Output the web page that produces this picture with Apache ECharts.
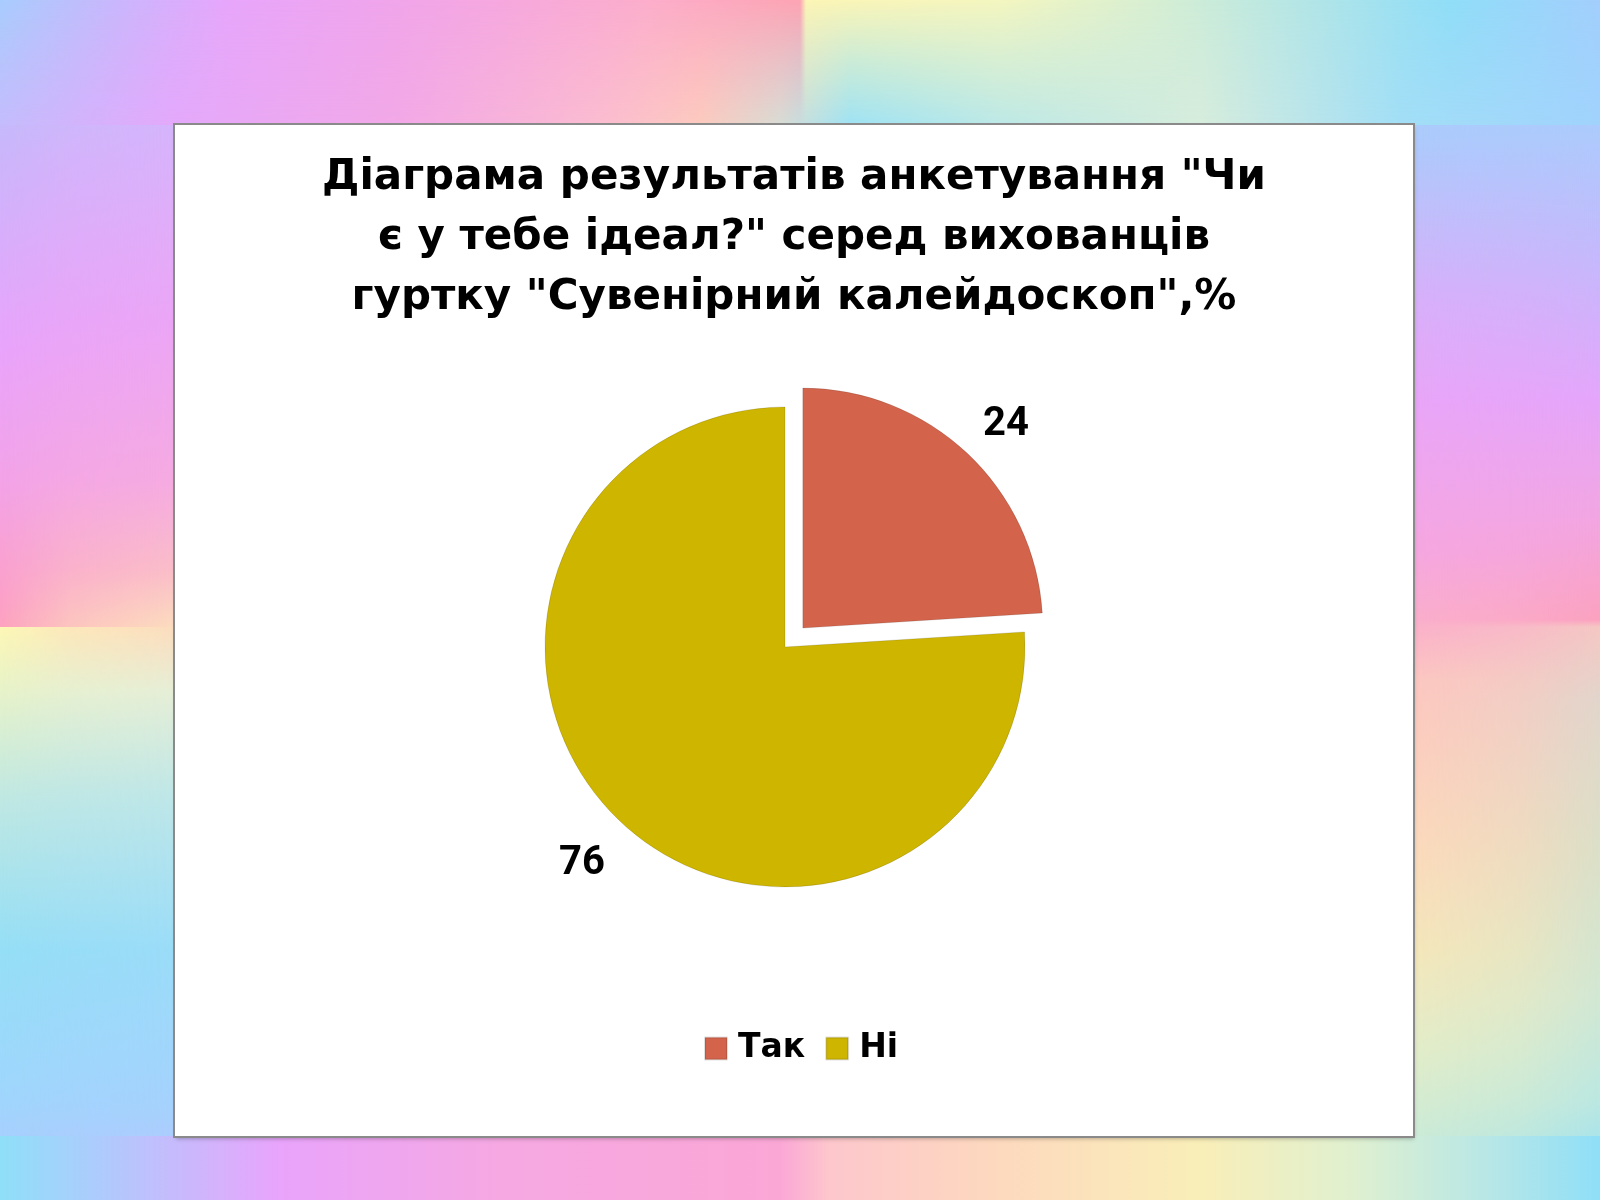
<!DOCTYPE html>
<html>
<head>
<meta charset="utf-8">
<title>Діаграма</title>
<script src="https://cdn.jsdelivr.net/npm/echarts@6.0.0/dist/echarts.min.js"></script>
<style>
    html, body { margin: 0; padding: 0; width: 1600px; height: 1200px; overflow: hidden; }
    .bg { position: absolute; }
    #bg_left { left: 0; top: 0; width: 175px; height: 1200px;
        background: linear-gradient(to bottom, #a9cdfd 0px, #cbb6fb 150px, #e9a4fb 350px, #f3a3e8 480px, #fca0c8 600px, #fda2c0 627px,
            #fdf8b6 627px, #e4f2cc 700px, #bfe8e3 800px, #95dff6 950px, #a0d6fd 1100px, #b2c6fd 1200px); }
    #bg_left_soft { left: 0; top: 0; width: 175px; height: 1200px;
        background: linear-gradient(to bottom, #c6befc 0px, #d8b2fb 150px, #eba5f6 320px, #f5aae1 480px, #fabdc8 570px, #fcdcbe 627px,
            #e6eed6 690px, #bde6e8 800px, #9adcf8 950px, #a4d2fd 1100px, #b8c4fd 1200px);
        -webkit-mask-image: linear-gradient(to right, transparent 0px, rgba(0,0,0,0.6) 70px, #000 175px);
        mask-image: linear-gradient(to right, transparent 0px, rgba(0,0,0,0.6) 70px, #000 175px); }
    #bg_right { left: 1413px; top: 0; width: 187px; height: 1200px;
        background: linear-gradient(to bottom, #8fdff8 0px, #a8cffd 100px, #c4bafc 250px, #e5a6fb 400px, #f3a6e2 520px, #fca2c0 620px,
            #f5c8c4 627px, #e2d6cc 700px, #dce0c8 850px, #d2e8d4 1000px, #bce8e2 1100px, #8fdff8 1200px); }
    #bg_right_soft { left: 1413px; top: 0; width: 187px; height: 1200px;
        background: linear-gradient(to bottom, #96dcf8 0px, #afc8fc 150px, #d7affa 300px, #e8a5f8 400px, #f5a6e0 550px, #faaecb 620px,
            #fcc6c0 680px, #fbd9bb 850px, #f4e6ba 950px, #e2ecc8 1050px, #c8ead8 1150px, #a8e2ec 1200px);
        -webkit-mask-image: linear-gradient(to left, transparent 0px, rgba(0,0,0,0.6) 80px, #000 187px);
        mask-image: linear-gradient(to left, transparent 0px, rgba(0,0,0,0.6) 80px, #000 187px); }
    #bg_top { left: 0; top: 0; width: 1600px; height: 125px;
        background: linear-gradient(to right, #a9cdfd 0px, #c8b8fc 110px, #e8a6fb 230px, #f0a5ec 380px, #f6a8df 500px, #fcaecb 650px, #fda4b4 800px,
            #fcf5b6 806px, #f4f6c0 1000px, #d8efd2 1150px, #b5e6e6 1300px, #90def8 1450px, #a3cffd 1600px); }
    #bg_top_soft { left: 0; top: 0; width: 1600px; height: 125px;
        background: linear-gradient(to right, #c4bcfc 0px, #e4a8fb 175px, #f2a8e6 400px, #fbbcd0 600px, #fccabe 700px, #d8dcd4 780px,
            #9ee2f4 850px, #bce8e6 1000px, #d6ecdc 1200px, #a2def6 1400px, #a0d2fd 1600px);
        -webkit-mask-image: linear-gradient(to bottom, transparent 0px, rgba(0,0,0,0.5) 60px, #000 125px);
        mask-image: linear-gradient(to bottom, transparent 0px, rgba(0,0,0,0.5) 60px, #000 125px); }
    #bg_bottom { left: 0; top: 1136px; width: 1600px; height: 64px;
        background: linear-gradient(to right, #8fdff8 0px, #aecbfd 100px, #e9a4fb 280px, #f5a8e2 500px, #fba7d6 780px, #fdc7cc 830px,
            #fdd9be 1000px, #f9eeb8 1200px, #e0f0cf 1350px, #b4e6e8 1500px, #8fdff8 1600px); }
    #chart_box { position: absolute; left: 175px; top: 125px; width: 1238px; height: 1011px; background: #fff;
        box-shadow: 0 0 0 2px #8a8a8a, 1px 3px 4px rgba(0, 0, 0, 0.25); }
</style>
</head>
<body>
<div class="bg" id="bg_left"></div>
<div class="bg" id="bg_left_soft"></div>
<div class="bg" id="bg_right"></div>
<div class="bg" id="bg_right_soft"></div>
<div class="bg" id="bg_top"></div>
<div class="bg" id="bg_top_soft"></div>
<div class="bg" id="bg_bottom"></div>
<div id="chart_box"></div>
<script>
var titleLines = [
    'Діаграма результатів анкетування "Чи',
    'є у тебе ідеал?" серед вихованців',
    'гуртку "Сувенірний калейдоскоп",%'
];
var categories = ['Так', 'Ні'];
var values = [24, 76];
var colors = ['#D3634B', '#CEB500'];

var pieData = categories.map(function (name, i) {
    return { name: name, value: values[i], selected: i === 0 };
});

var option = {
    animation: false,
    color: colors,
    title: {
        text: titleLines.join('\n'),
        left: 'center',
        top: 18,
        textStyle: {
            fontFamily: 'DejaVu Sans',
            fontWeight: 'bold',
            fontSize: 42,
            lineHeight: 60,
            color: '#000'
        }
    },
    legend: {
        data: categories,
        left: 529,
        top: 907,
        padding: 0,
        icon: 'rect',
        itemWidth: 22,
        itemHeight: 22,
        itemGap: 20,
        textStyle: {
            fontFamily: 'DejaVu Sans',
            fontWeight: 'bold',
            fontSize: 33,
            color: '#000',
            padding: [0, 0, 0, 6]
        }
    },
    series: [{
        type: 'pie',
        center: [610, 522],
        radius: 240,
        startAngle: 90,
        clockwise: true,
        selectedMode: 'single',
        selectedOffset: 26,
        avoidLabelOverlap: false,
        itemStyle: { borderColor: 'rgba(0,0,0,0.12)', borderWidth: 1 },
        emphasis: { disabled: true },
        label: {
            show: true,
            position: 'outside',
            formatter: '{v|{c}}',
            distanceToLabelLine: -17,
            rich: {
                v: {
                    fontFamily: 'Roboto',
                    fontWeight: 'bold',
                    fontSize: 40,
                    color: '#000',
                    padding: [14, 0, 0, 0]
                }
            }
        },
        labelLine: { show: false, length: 48, length2: 0 },
        data: pieData
    }]
};

var myChart = echarts.init(document.getElementById('chart_box'));
myChart.setOption(option);
</script>
</body>
</html>
